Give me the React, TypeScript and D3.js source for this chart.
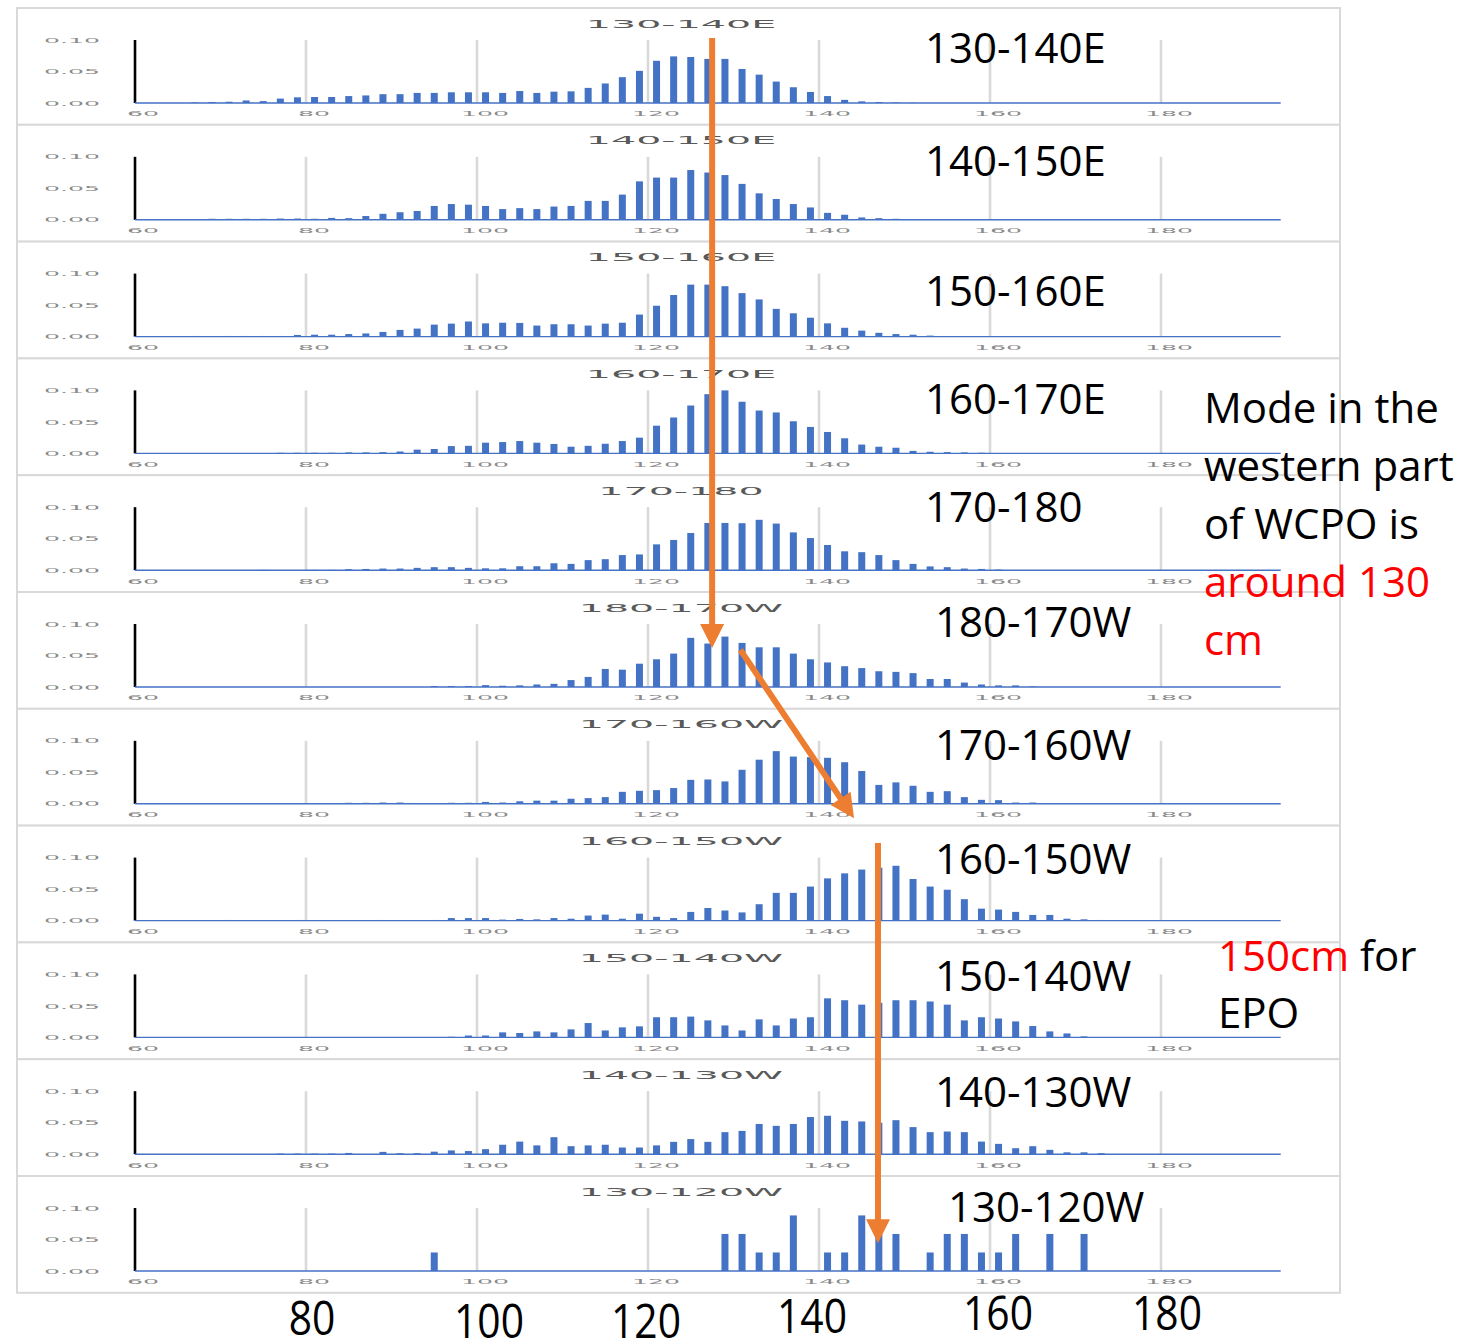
import React from 'react';
import * as d3 from 'd3';

// length bins (cm, bin centres) shared by every panel
const binCenters = [
  61, 63, 65, 67, 69, 71, 73, 75, 77, 79,
  81, 83, 85, 87, 89, 91, 93, 95, 97, 99,
  101, 103, 105, 107, 109, 111, 113, 115, 117, 119,
  121, 123, 125, 127, 129, 131, 133, 135, 137, 139,
  141, 143, 145, 147, 149, 151, 153, 155, 157, 159,
  161, 163, 165, 167, 169, 171, 173, 175,
];

const regions = [
  '130-140E', '140-150E', '150-160E', '160-170E', '170-180', '180-170W',
  '170-160W', '160-150W', '150-140W', '140-130W', '130-120W',
];

const p130_140E = [
  0, 0, 0, .001, .0016, .002, .004, .003, .007, .009,
  .0095, .0095, .011, .012, .014, .014, .016, .016, .017, .017,
  .017, .016, .019, .016, .018, .0185, .024, .031, .041, .051,
  .067, .074, .073, .070, .070, .054, .045, .034, .025, .0175,
  .011, .005, .0026, .0016, .001, .0005, 0, 0, 0, 0,
  0, 0, 0, 0, 0, 0, 0, 0,
];
const p140_150E = [
  0, .0005, .001, .001, .0016, .0016, .0016, .0016, .002, .002,
  .0016, .003, .0026, .006, .0095, .012, .014, .022, .025, .024,
  .022, .017, .0185, .017, .021, .022, .030, .030, .040, .061,
  .067, .067, .079, .075, .071, .057, .042, .033, .025, .0196,
  .011, .008, .0037, .0026, .0016, .001, .001, .0005, 0, 0,
  0, 0, 0, 0, 0, 0, 0, 0,
];
const p150_160E = [
  0, 0, 0, .001, 0, .001, .001, .001, .001, .0026,
  .003, .003, .004, .005, .0074, .0106, .0127, .019, .0206, .024,
  .021, .022, .0217, .0175, .0196, .0196, .0175, .0206, .022, .035,
  .049, .066, .0825, .0825, .080, .069, .059, .044, .037, .030,
  .021, .014, .0095, .006, .004, .003, .0016, 0, 0, 0,
  0, 0, 0, 0, 0, 0, 0, 0,
];
const p160_170E = [
  0, 0, 0, 0, 0, 0, 0, 0, .001, .001,
  .001, .001, .0016, .0016, .002, .003, .006, .007, .0116, .012,
  .017, .018, .0196, .017, .015, .0106, .012, .0153, .0196, .025,
  .044, .057, .076, .094, .100, .082, .068, .065, .051, .042,
  .034, .024, .014, .0106, .009, .004, .0026, .002, .0016, .001,
  0, 0, 0, 0, 0, 0, 0, 0,
];
const p170_180 = [
  0, 0, 0, 0, 0, 0, 0, .0005, 0, 0,
  .0005, .0005, .0016, .002, .0026, .0026, .0037, .0048, .0048, .0037,
  .003, .003, .0063, .0063, .011, .010, .016, .0175, .024, .025,
  .041, .048, .059, .075, .075, .0746, .080, .074, .060, .051,
  .040, .030, .0286, .024, .016, .010, .006, .0048, .0026, .002,
  .001, 0, 0, 0, 0, 0, 0, 0,
];
const p180_170W = [
  0, 0, 0, 0, 0, 0, 0, 0, 0, 0,
  0, 0, 0, 0, 0, 0, 0, .0016, .0016, .0016,
  .003, .002, .0026, .004, .005, .011, .016, .0286, .0275, .037,
  .044, .053, .078, .069, .080, .070, .063, .063, .053, .044,
  .039, .033, .030, .025, .024, .022, .0127, .0127, .007, .004,
  .0026, .0026, .001, 0, 0, 0, 0, 0,
];
const p170_160W = [
  0, .001, 0, 0, 0, 0, 0, 0, .001, 0,
  0, 0, .0016, .0016, .002, .002, 0, 0, .0016, .0016,
  .003, .002, .004, .005, .005, .008, .009, .0106, .019, .0206,
  .0217, .025, .038, .0386, .0355, .054, .070, .0836, .075, .074,
  .073, .066, .052, .030, .034, .0286, .019, .020, .0106, .0063,
  .0058, .002, .002, .001, 0, 0, 0, 0,
];
const p160_150W = [
  0, 0, 0, 0, 0, .001, 0, 0, 0, .001,
  0, 0, 0, 0, .001, 0, 0, .001, .004, .004,
  .004, .0016, .0026, .002, .004, .003, .008, .0095, .003, .011,
  .006, .004, .0138, .020, .016, .013, .026, .044, .044, .054,
  .067, .075, .081, .084, .087, .066, .054, .049, .034, .019,
  .0175, .0138, .009, .009, .003, .002, .001, 0,
];
const p150_140W = [
  0, 0, 0, 0, 0, 0, 0, 0, 0, 0,
  0, 0, .0005, 0, 0, 0, 0, 0, .001, .003,
  .003, .008, .007, .0095, .008, .0127, .0228, .011, .0159, .0175,
  .032, .032, .033, .027, .019, .011, .0286, .019, .030, .032,
  .062, .059, .052, .055, .059, .059, .057, .052, .027, .032,
  .030, .0254, .018, .0095, .0063, .0016, 0, 0,
];
const p140_130W = [
  0, 0, 0, 0, 0, 0, 0, 0, .001, .001,
  .001, .001, .002, 0, .0037, .0016, .0016, .004, .006, .005,
  .008, .015, .020, .014, .027, .0127, .014, .015, .0106, .0106,
  .014, .0196, .024, .0196, .035, .037, .048, .045, .048, .059,
  .061, .053, .052, .050, .054, .043, .035, .036, .035, .020,
  .0164, .0095, .0127, .0069, .003, .003, .0016, 0,
];
const p130_120W = [
  0, 0, 0, 0, 0, 0, 0, 0, 0, 0,
  0, 0, 0, 0, 0, 0, 0, .0294, 0, 0,
  0, 0, 0, 0, 0, 0, 0, 0, 0, 0,
  0, 0, 0, 0, .0588, .0588, .0294, .0294, .0882, 0,
  .0294, .0294, .0882, .0588, .0588, 0, .0294, .0588, .0588, .0294,
  .0294, .0588, 0, .0588, 0, .0588, 0, 0,
];

const panelValues = [
  p130_140E, p140_150E, p150_160E, p160_170E, p170_180, p180_170W,
  p170_160W, p160_150W, p150_140W, p140_130W, p130_120W,
];

const xTicks = [60, 80, 100, 120, 140, 160, 180];
const yTicks = [0, 0.05, 0.1];
const bottomLabels = [80, 100, 120, 140, 160, 180];

// arrows: [cm, panel index, value on that panel's y scale]
const arrows = [
  { from: [127.5, 0, 0.103], to: [127.5, 5, 0.062] },
  { from: [130.8, 5, 0.059], to: [144.1, 6, -0.023] },
  { from: [146.9, 7, 0.123], to: [146.9, 10, 0.044] },
];

const modeLines = [
  { text: 'Mode in the', red: false },
  { text: 'western part', red: false },
  { text: 'of WCPO is', red: false },
  { text: 'around 130', red: true },
  { text: 'cm', red: true },
];

// layout
const W = 1468;
const H = 1338;
const frameLeft = 17;
const frameRight = 1340;
const top0 = 8;
const panelH = 116.8;
const axisEnd = 194;
const labelDy = [55, 51, 64, 56, 47, 45, 51, 48, 49, 48, 46];
const bottomNudge = [6, 12, -2, -7, 8, 6];
const bottomBase = [1335, 1338, 1338, 1333, 1330, 1330];

const BLUE = '#4472C4';
const ORANGE = '#ED7D31';
const GRID = '#d9d9d9';
const small = 'DejaVu Sans, Verdana, sans-serif';
const big = 'Open Sans, Noto Sans, sans-serif';

const x = d3.scaleLinear().domain([60, 180]).range([135, 1161]);
const y = d3.scaleLinear().domain([0, 0.1]).range([95, 32]);
const panelTop = (i: number) => top0 + i * panelH;
const pt = (p: number[]) => [x(p[0]), panelTop(p[1]) + y(p[2])];

const Arrow = ({ a }: { a: { from: number[]; to: number[] } }) => {
  const [x1, y1] = pt(a.from);
  const [x2, y2] = pt(a.to);
  const len = Math.hypot(x2 - x1, y2 - y1);
  const ux = (x2 - x1) / len;
  const uy = (y2 - y1) / len;
  const hl = 24;
  const hw = 12;
  const bx = x2 - ux * hl;
  const by = y2 - uy * hl;
  const head = [
    [x2, y2],
    [bx - uy * hw, by + ux * hw],
    [bx + uy * hw, by - ux * hw],
  ];
  return (
    <g>
      <line x1={x1} y1={y1} x2={bx + ux * 2} y2={by + uy * 2} stroke={ORANGE} strokeWidth={6} />
      <polygon points={head.map((p) => p.join(',')).join(' ')} fill={ORANGE} />
    </g>
  );
};

const Panel = ({ i }: { i: number }) => {
  const t = panelTop(i);
  const vals = panelValues[i];
  return (
    <g transform={`translate(0,${t})`}>
      <rect x={frameLeft} y={0} width={frameRight - frameLeft} height={panelH}
        fill="#fff" stroke={GRID} strokeWidth={2} />
      {xTicks.slice(1).map((v) => (
        <line key={v} x1={x(v)} x2={x(v)} y1={y(0.1)} y2={y(0)} stroke={GRID} strokeWidth={2.6} />
      ))}
      <line x1={x(60)} x2={x(60)} y1={y(0.1)} y2={y(0)} stroke="#000" strokeWidth={2.6} />
      {binCenters.map((c, k) => vals[k] > 0 && (
        <rect key={c} x={x(c) - 3.5} width={7} y={y(vals[k])} height={y(0) - y(vals[k])} fill={BLUE} />
      ))}
      <line x1={x(60)} x2={x(axisEnd)} y1={y(0)} y2={y(0)} stroke={BLUE} strokeWidth={1.4} />
      {yTicks.map((v) => (
        <text key={v} transform={`translate(100,${y(v) + 2.6}) scale(3.6,1)`} textAnchor="end"
          fontFamily={small} fontSize={7} fill="#8a8a8a">{v.toFixed(2)}</text>
      ))}
      {xTicks.map((v) => (
        <text key={v} transform={`translate(${x(v) + 8},${y(0) + 13.3}) scale(3.6,1)`} textAnchor="middle"
          fontFamily={small} fontSize={7} fill="#8a8a8a">{v}</text>
      ))}
      <text transform={`translate(681,19.5) scale(3.6,1)`} textAnchor="middle"
        fontFamily={small} fontSize={11} fill="#595959">{regions[i]}</text>
      <text x={i < 5 ? 925 : i < 10 ? 935 : 948} y={labelDy[i]} fontFamily={big} fontSize={42} fill="#000">
        {regions[i]}
      </text>
    </g>
  );
};

export default function App() {
  return (
    <svg width={W} height={H} viewBox={`0 0 ${W} ${H}`}
      style={{ position: 'absolute', left: 0, top: 0, background: '#fff' }}>
      <rect width={W} height={H} fill="#fff" />
      {regions.map((r, i) => <Panel key={r} i={i} />)}
      {modeLines.map((l, k) => (
        <text key={l.text} x={1204} y={423 + k * 58} fontFamily={big} fontSize={42}
          fill={l.red ? '#FF0000' : '#000'}>{l.text}</text>
      ))}
      <text x={1218} y={971} fontFamily={big} fontSize={42}>
        <tspan fill="#FF0000">150cm</tspan><tspan fill="#000"> for</tspan>
      </text>
      <text x={1218} y={1028} fontFamily={big} fontSize={42} fill="#000">EPO</text>
      {bottomLabels.map((v, k) => (
        <text key={v} transform={`translate(${x(v) + bottomNudge[k]},${bottomBase[k]}) scale(0.85,1)`}
          textAnchor="middle" fontFamily={big} fontSize={48} fill="#000">{v}</text>
      ))}
      {arrows.map((a, k) => <Arrow key={k} a={a} />)}
    </svg>
  );
}
